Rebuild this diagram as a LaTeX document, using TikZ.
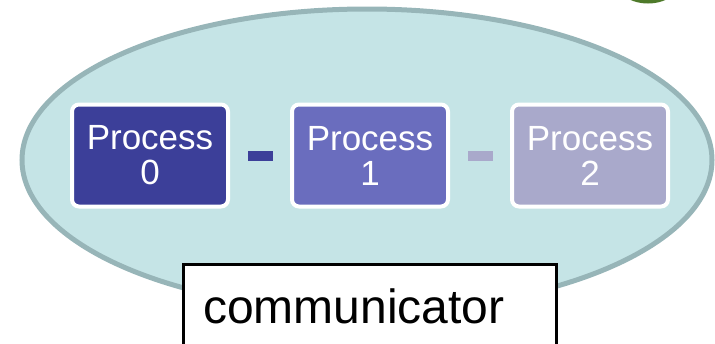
\documentclass[tikz,border=0pt]{standalone}
\usepackage{fontspec}
\setmainfont{Liberation Sans}
\usetikzlibrary{calc}
\definecolor{groupfill}{HTML}{C5E4E6}
\definecolor{groupline}{HTML}{97B5B8}
\definecolor{procA}{HTML}{3C3F99}
\definecolor{procB}{HTML}{6A6DBE}
\definecolor{procC}{HTML}{A9A9CB}
\definecolor{leaf}{HTML}{4E7A2A}
\begin{document}
\begin{tikzpicture}[x=1pt,y=-1pt,
  proc/.style={draw=white, line width=4pt, rounded corners=7pt,
    minimum width=156pt, minimum height=102pt, inner sep=0pt,
    text=white, align=center, font=\fontsize{35}{35}\selectfont},
  link/.style={line width=10pt},
  labelbox/.style={draw=black, fill=white, line width=3pt,
    minimum width=373pt, minimum height=90pt, inner sep=0pt}]
\useasboundingbox (0,0) rectangle (715,343);

% decorative shape peeking in at the top edge
\fill[leaf] (648,-28) ellipse [x radius=38, y radius=31.5];

% the communicator group
\draw[line width=5pt, draw=groupline, fill=groupfill]
  (367,160) ellipse [x radius=345, y radius=151];

% processes
\node[proc, fill=procA] (p0) at (150,155.5) {Process\\0};
\node[proc, fill=procB] (p1) at (370,155.5) {Process\\1};
\node[proc, fill=procC] (p2) at (590,155.5) {Process\\2};

% links between processes
\draw[link, procA] ($(p0.east)!0.3!(p1.west)$) -- ($(p0.east)!0.717!(p1.west)$);
\draw[link, procC] ($(p1.east)!0.3!(p2.west)$) -- ($(p1.east)!0.717!(p2.west)$);

% label
\node[labelbox, anchor=north west] (comm) at (182,263) {};
\node[anchor=base west, inner sep=0pt, font=\fontsize{48}{48}\selectfont]
  (commtext) at (203,323) {communicator};
\end{tikzpicture}
\end{document}
